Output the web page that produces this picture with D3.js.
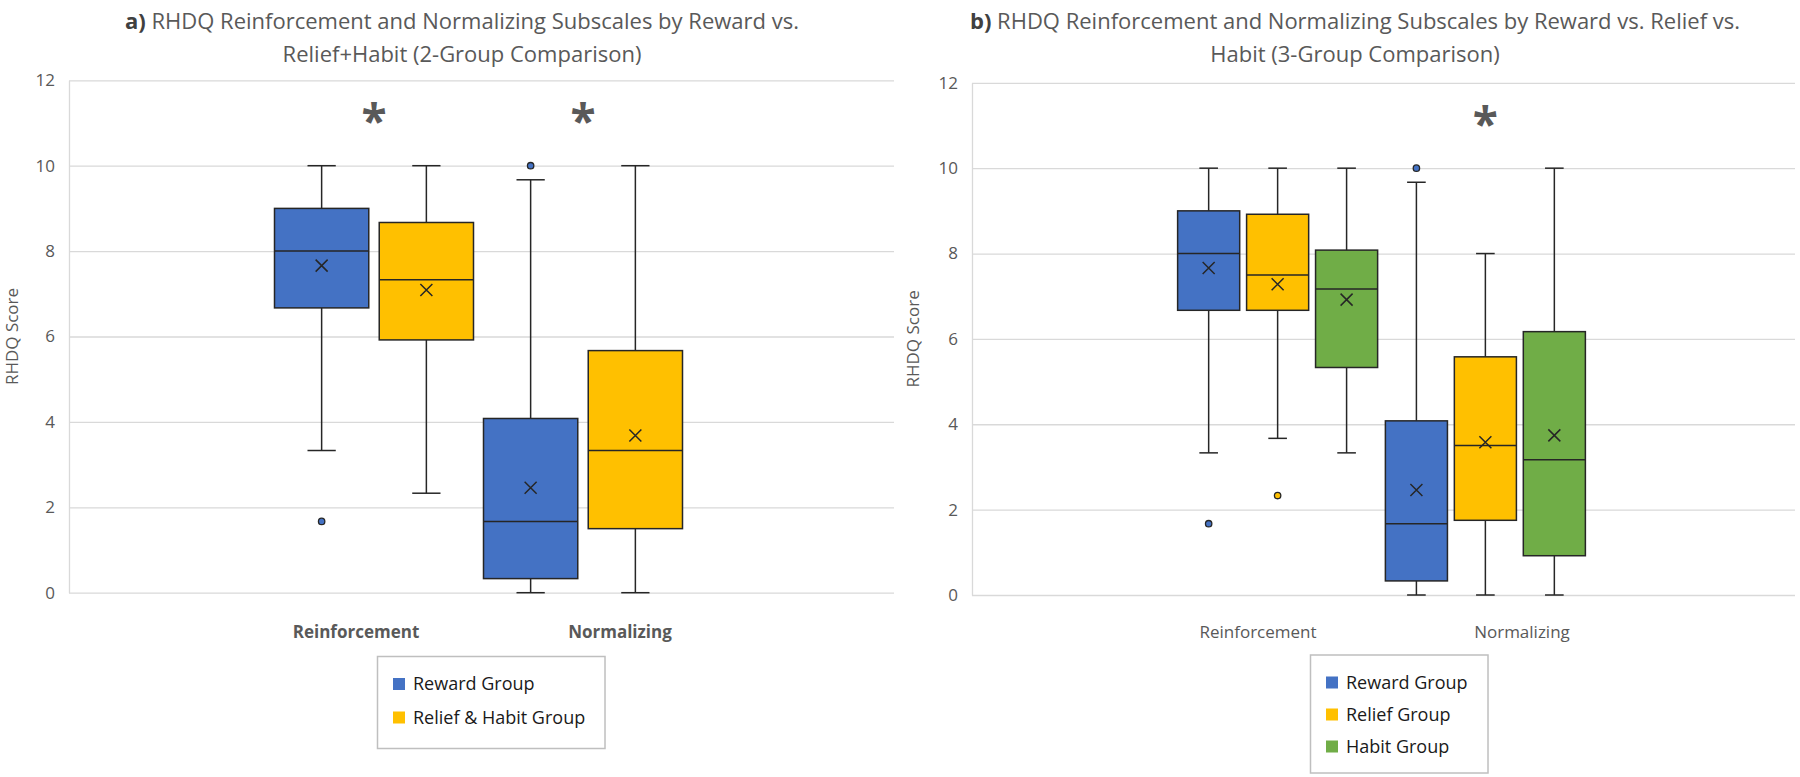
<!DOCTYPE html>
<html>
<head>
<meta charset="utf-8">
<script src="https://cdn.jsdelivr.net/npm/d3@7"></script>
<style>
	body { margin: 0; background: #fff; }
	svg { display: block; font-family: "Open Sans", "Noto Sans", sans-serif; }
</style>
</head>
<body>
<div id="chart"></div>
<script>
// categories and groups
var categories = ["Reinforcement", "Normalizing"];
var groupsA = ["Reward Group", "Relief & Habit Group"];
var groupsB = ["Reward Group", "Relief Group", "Habit Group"];
var yTicks = [0, 2, 4, 6, 8, 10, 12];

// box stats per category: [low whisker, q1, median, q3, high whisker]
var rewardBox = [[3.33, 6.67, 8.0, 9.0, 10], [0, 0.33, 1.67, 4.08, 9.67]];
var rewardMean = [7.66, 2.46];
var rewardOut = [[1.67], [10]];

var reliefHabitBox = [[2.33, 5.92, 7.33, 8.67, 10], [0, 1.5, 3.33, 5.67, 10]];
var reliefHabitMean = [7.09, 3.68];
var reliefHabitOut = [[], []];

var reliefBox = [[3.67, 6.67, 7.5, 8.92, 10], [0, 1.75, 3.5, 5.58, 8.0]];
var reliefMean = [7.28, 3.58];
var reliefOut = [[2.33], []];

var habitBox = [[3.33, 5.33, 7.17, 8.08, 10], [0, 0.92, 3.17, 6.17, 10]];
var habitMean = [6.92, 3.74];
var habitOut = [[], []];

var sigA = ["Reinforcement", "Normalizing"];
var sigB = ["Normalizing"];

var colors = {"Reward Group": "#4472c4", "Relief & Habit Group": "#ffc000", "Relief Group": "#ffc000", "Habit Group": "#70ad47"};

var svg = d3.select("#chart").append("svg").attr("width", 1800).attr("height", 777);

function seriesOf(groups, boxes, means, outs) {
	return groups.map(function(g, i) {
		return {group: g, box: boxes[i], mean: means[i], out: outs[i]};
	});
}

function drawPanel(p) {
	var g = svg.append("g");
	var y = d3.scaleLinear().domain([0, 12]).range([p.y0, p.y12]);
	var x = d3.scaleBand().domain(["", categories[0], categories[1], " "]).range([p.bandL, p.bandR]);
	var inner = d3.scaleBand().domain(p.groups).range([-p.groupW / 2, p.groupW / 2]).paddingInner(0.1);
	var bw = inner.bandwidth();

	// title
	var t = g.append("text").attr("x", p.titleX).attr("y", 29).attr("text-anchor", "middle")
		.style("font-size", "22px").style("fill", "#595959");
	t.append("tspan").text(p.tag).style("font-weight", "bold").style("fill", "#404040");
	t.append("tspan").text(p.title1);
	g.append("text").attr("x", p.titleX).attr("y", 62).attr("text-anchor", "middle")
		.style("font-size", "22px").style("fill", "#595959").text(p.title2);

	// y axis + gridlines
	var ax = g.append("g").attr("transform", "translate(" + p.left + ",0)")
		.call(d3.axisLeft(y).tickValues(yTicks).tickSize(-(p.right - p.left)).tickSizeOuter(0).tickPadding(14));
	ax.selectAll(".tick line").attr("stroke", "#d9d9d9").attr("stroke-width", 1.3);
	ax.select(".domain").attr("stroke", "#d9d9d9").attr("stroke-width", 1.3);
	ax.selectAll(".tick text").style("font-size", "17px").style("fill", "#595959").style("font-family", "Open Sans");

	g.append("text").attr("transform", "translate(" + p.yTitleX + "," + ((p.y0 + p.y12) / 2) + ") rotate(-90)")
		.attr("text-anchor", "middle").attr("dy", "0.35em")
		.style("font-size", "17px").style("fill", "#595959").text("RHDQ Score");

	// category labels
	var lx = d3.scalePoint().domain(categories).range([p.labelMid - 132, p.labelMid + 132]);
	g.selectAll(".cat").data(categories).enter().append("text")
		.attr("x", function(d) { return lx(d); }).attr("y", 638).attr("text-anchor", "middle")
		.style("font-size", "17px").style("font-weight", p.boldCats ? "bold" : "normal").style("fill", "#595959")
		.text(function(d) { return d; });

	// boxes
	p.series.forEach(function(s) {
		categories.forEach(function(c, ci) {
			var b = s.box[ci];
			var cx = x(c) + x.bandwidth() / 2 + inner(s.group) + bw / 2;
			var cap = bw * 0.3;
			var bg = g.append("g").attr("stroke", "#262626").attr("stroke-width", 1.5);
			bg.append("line").attr("x1", cx).attr("x2", cx).attr("y1", y(b[4])).attr("y2", y(b[3]));
			bg.append("line").attr("x1", cx).attr("x2", cx).attr("y1", y(b[0])).attr("y2", y(b[1]));
			bg.append("line").attr("x1", cx - cap / 2).attr("x2", cx + cap / 2).attr("y1", y(b[4])).attr("y2", y(b[4]));
			bg.append("line").attr("x1", cx - cap / 2).attr("x2", cx + cap / 2).attr("y1", y(b[0])).attr("y2", y(b[0]));
			bg.append("rect").attr("x", cx - bw / 2).attr("width", bw)
				.attr("y", y(b[3])).attr("height", y(b[1]) - y(b[3])).attr("fill", colors[s.group]);
			bg.append("line").attr("x1", cx - bw / 2).attr("x2", cx + bw / 2).attr("y1", y(b[2])).attr("y2", y(b[2]));
			var my = y(s.mean[ci]), m = 6;
			bg.append("path").attr("d", "M" + (cx - m) + "," + (my - m) + "L" + (cx + m) + "," + (my + m) +
				"M" + (cx - m) + "," + (my + m) + "L" + (cx + m) + "," + (my - m));
			s.out[ci].forEach(function(o) {
				bg.append("circle").attr("cx", cx).attr("cy", y(o)).attr("r", 3.2)
					.attr("fill", colors[s.group]).attr("stroke-width", 1.3);
			});
		});
	});

	// significance stars
	g.selectAll(".star").data(p.sig).enter().append("text")
		.attr("x", function(d) { return x(d) + x.bandwidth() / 2; }).attr("y", y(11.2) + 24)
		.attr("text-anchor", "middle").style("font-size", "46px").style("font-weight", "bold").style("fill", "#595959")
		.text("*");

	// legend
	var L = p.legend;
	var lg = g.append("g").attr("transform", "translate(" + L.x + "," + L.y + ")");
	lg.append("rect").attr("width", L.w).attr("height", L.h).attr("fill", "#fff").attr("stroke", "#bfbfbf").attr("stroke-width", 1.5);
	p.groups.forEach(function(gr, i) {
		var cy = 27.5 + i * L.step;
		lg.append("rect").attr("x", 15.5).attr("y", cy - 6).attr("width", 12).attr("height", 12).attr("fill", colors[gr]);
		lg.append("text").attr("x", 35.5).attr("y", cy).attr("dy", "0.35em")
			.style("font-size", "18px").style("fill", "#1a1a1a").text(gr);
	});
}

drawPanel({
	tag: "a) ", title1: "RHDQ Reinforcement and Normalizing Subscales by Reward vs.",
	title2: "Relief+Habit (2-Group Comparison)", titleX: 462,
	left: 69, right: 894, y0: 592.7, y12: 80.3, bandL: 60.5, bandR: 896.5,
	groups: groupsA, groupW: 199, boldCats: true, labelMid: 488, yTitleX: 12,
	series: seriesOf(groupsA, [rewardBox, reliefHabitBox], [rewardMean, reliefHabitMean], [rewardOut, reliefHabitOut]),
	sig: sigA, legend: {x: 377.5, y: 656.5, w: 227.5, h: 92, step: 33.5}
});

drawPanel({
	tag: "b) ", title1: "RHDQ Reinforcement and Normalizing Subscales by Reward vs. Relief vs.",
	title2: "Habit (3-Group Comparison)", titleX: 1355,
	left: 972, right: 1795, y0: 595, y12: 82.8, bandL: 966, bandR: 1797,
	groups: groupsB, groupW: 200, boldCats: false, labelMid: 1390, yTitleX: 913,
	series: seriesOf(groupsB, [rewardBox, reliefBox, habitBox], [rewardMean, reliefMean, habitMean], [rewardOut, reliefOut, habitOut]),
	sig: sigB, legend: {x: 1310.5, y: 655, w: 177.5, h: 118, step: 32}
});
</script>
</body>
</html>
